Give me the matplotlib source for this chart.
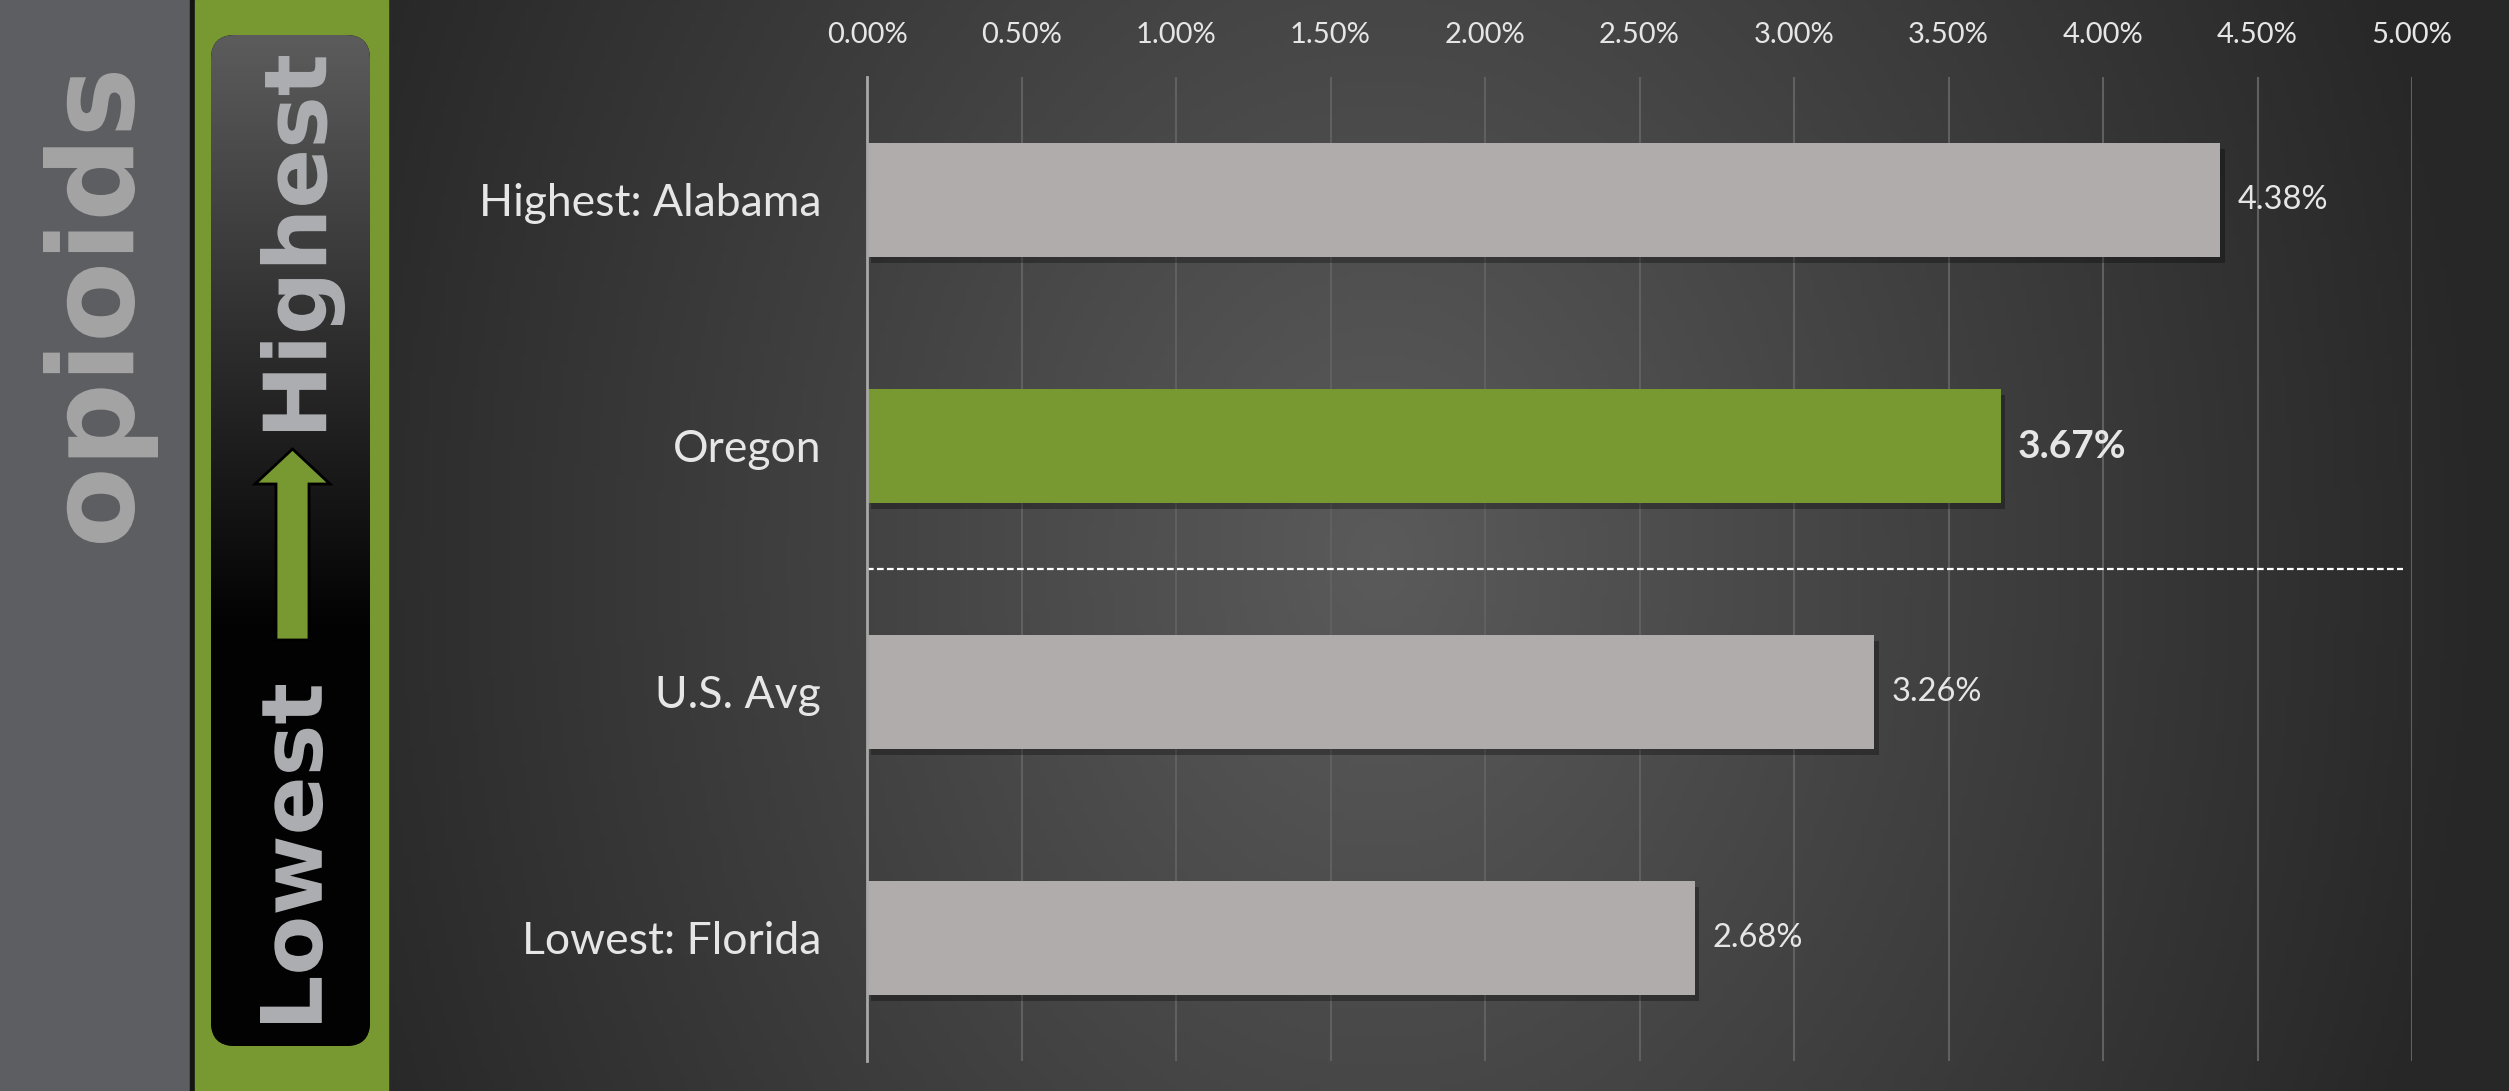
import numpy as np
import matplotlib.pyplot as plt
from matplotlib.patches import Rectangle, FancyBboxPatch, Polygon, PathPatch
from matplotlib.textpath import TextPath
from matplotlib.font_manager import FontProperties
from matplotlib.transforms import Affine2D
import matplotlib.patheffects as pe

# data
categories = ['Highest: Alabama', 'Oregon', 'U.S. Avg', 'Lowest: Florida']
values = [4.38, 3.67, 3.26, 2.68]
highlight = 'Oregon'
xticks = [0.0, 0.5, 1.0, 1.5, 2.0, 2.5, 3.0, 3.5, 4.0, 4.5, 5.0]

W, H = 2509, 1091
GREEN = '#789832'
BAR_GRAY = '#b0acab'
TXT = '#e6e6e6'
plt.rcParams['font.family'] = ['Lato', 'DejaVu Sans']

fig = plt.figure(figsize=(W / 100, H / 100), dpi=100)
fig.patch.set_facecolor('#242424')

# background layer in pixel coordinates
bg = fig.add_axes([0, 0, 1, 1])
bg.axis('off')

# radial-ish chart background
xx, yy = np.meshgrid(np.linspace(388, W, 400), np.linspace(0, H, 200))
r = np.sqrt(((xx - 1380) / 1100) ** 2 + ((yy - 560) / 1400) ** 2)
r = np.clip(r, 0, 1)
shade = (0.355 - 0.2 * r)
img = np.dstack([shade, shade, shade])
bg.imshow(img, extent=(388, W, H, 0), aspect='auto', zorder=0)

# left side panels
bg.add_patch(Rectangle((0, 0), 190, H, color='#5d5e61', zorder=1))
bg.add_patch(Rectangle((190, 0), 5, H, color='#141414', zorder=1))
bg.add_patch(Rectangle((195, 0), 193, H, color=GREEN, zorder=1))

# rounded dark box with vertical gradient
box = FancyBboxPatch((211, 35), 159, 1011, boxstyle='round,pad=0,rounding_size=24',
                     facecolor='#000000', edgecolor='none', zorder=2)
bg.add_patch(box)
g = np.linspace(0, 1, 256)
gv = np.clip(0.36 * (1 - g / 0.6), 0.01, None)
col = np.repeat(gv[:, None], 2, axis=1)
gimg = np.dstack([col, col, col])
im = bg.imshow(gimg, extent=(211, 370, 1046, 35), aspect='auto', zorder=3)
im.set_clip_path(box)

# arrow
arrow = Polygon([(276, 640), (309, 640), (309, 484), (330, 484), (292.5, 449),
                 (255, 484), (276, 484)], closed=True,
                facecolor=GREEN, edgecolor='black', linewidth=2, zorder=4)
bg.add_patch(arrow)


def vertical_word(word, x_left, x_right, y_top, y_bottom, color):
    # word reads bottom-to-top, stretched to fill the given pixel box
    tp = TextPath((0, 0), word, size=100, prop=FontProperties(family='DejaVu Sans', weight='bold'))
    ext = tp.get_extents()
    su = (y_bottom - y_top) / ext.width
    sv = (x_right - x_left) / ext.height
    x0 = x_left + sv * ext.y1
    y0 = y_bottom + su * ext.x0
    tr = Affine2D(np.array([[0, -sv, x0], [-su, 0, y0], [0, 0, 1.0]]))
    bg.add_patch(PathPatch(tr.transform_path(tp), facecolor=color, edgecolor='none', zorder=5))


vertical_word('opioids', 43, 158, 73, 543, '#a3a3a3')
vertical_word('Highest', 260, 345, 56, 431, '#abadb0')
vertical_word('Lowest', 260, 323, 685, 1023, '#abadb0')

bg.set_xlim(0, W)
bg.set_ylim(H, 0)

# main chart
ax = fig.add_axes([867 / W, 1 - 1061 / H, (2412 - 867) / W, 984 / H])
ax.set_facecolor('none')
y = np.arange(len(categories))
colors = [GREEN if c == highlight else BAR_GRAY for c in categories]
bars = ax.barh(y, values, height=0.463, color=colors, zorder=3)
for b in bars:
    b.set_path_effects([pe.SimplePatchShadow(offset=(3, -4), shadow_rgbFace='black', alpha=0.3),
                        pe.Normal()])

for i, (c, v) in enumerate(zip(categories, values)):
    bold = c == highlight
    ax.text(v + 0.055, i, f'{v:.2f}%', va='center', ha='left', color=TXT,
            fontsize=28 if bold else 23.5, fontweight='bold' if bold else 'normal', zorder=4)

ax.axhline(1.5, xmin=0, xmax=0.994, color='white', lw=1.6, ls=(0, (3, 1.5)), zorder=2)

ax.set_xlim(0, 5)
ax.set_ylim(3.5, -0.5)
ax.set_xticks(xticks)
ax.set_xticklabels([f'{t:.2f}%' for t in xticks])
ax.xaxis.tick_top()
ax.set_yticks(y)
ax.set_yticklabels(categories)
ax.tick_params(axis='x', length=0, pad=21, labelsize=21, labelcolor=TXT)
ax.tick_params(axis='y', length=0, pad=33, labelsize=32, labelcolor=TXT)
ax.grid(axis='x', color='#606060', lw=1.5, zorder=1)
for s in ['top', 'right', 'bottom']:
    ax.spines[s].set_visible(False)
ax.spines['left'].set_color('#a8a8a8')
ax.spines['left'].set_linewidth(2)
ax.spines['left'].set_zorder(5)

fig.savefig('out.png', dpi=100, facecolor=fig.get_facecolor())
